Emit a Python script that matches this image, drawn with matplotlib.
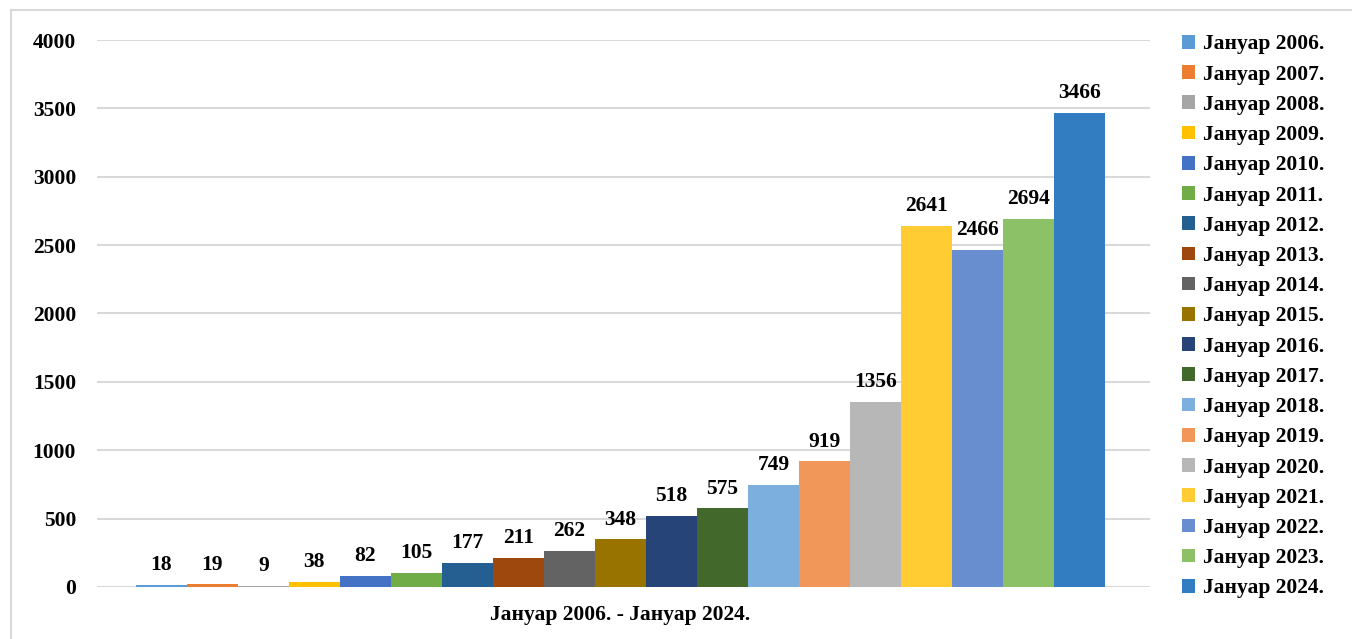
import matplotlib
matplotlib.use('Agg')
import matplotlib.pyplot as plt
from matplotlib.lines import Line2D

# Data
years = list(range(2006, 2025))
series_labels = [f"Јануар {y}." for y in years]
values = [18, 19, 9, 38, 82, 105, 177, 211, 262, 348, 518, 575,
          749, 919, 1356, 2641, 2466, 2694, 3466]
colors = ["#5B9BD5", "#ED7D31", "#A5A5A5", "#FFC000", "#4472C4", "#70AD47",
          "#255E91", "#9E480E", "#636363", "#997300", "#264478", "#43682B",
          "#7CAFDD", "#F1975A", "#B7B7B7", "#FFCD33", "#698ED0", "#8CC168",
          "#327DC2"]
category = "Јануар 2006. - Јануар 2024."
yticks = [0, 500, 1000, 1500, 2000, 2500, 3000, 3500, 4000]

plt.rcParams['font.family'] = ['Liberation Serif', 'DejaVu Serif']
plt.rcParams['font.weight'] = 'bold'
FS = 15.5

fig = plt.figure(figsize=(13.52, 6.39), dpi=100)
ax = fig.add_axes([0.0717, 0.0814, 0.779, 0.856])

n = len(values)
group_width = 0.92
bw = group_width / n
x0 = -0.003
for i, (lab, v, c) in enumerate(zip(series_labels, values, colors)):
    x = x0 - group_width / 2 + bw * (i + 0.5)
    bars = ax.bar(x, v, width=bw, color=c, label=lab, zorder=3)
    ax.bar_label(bars, labels=[str(v)], padding=7, fontsize=FS,
                 fontweight='bold', color='black')

ax.set_xlim(-0.5, 0.5)
ax.set_ylim(0, 4000)
ax.set_yticks(yticks)
ax.set_yticklabels([str(t) for t in yticks], fontsize=FS, fontweight='bold')
ax.set_xticks([x0])
ax.set_xticklabels([category], fontsize=FS, fontweight='bold')
ax.tick_params(axis='y', length=0, pad=15)
ax.tick_params(axis='x', length=0, pad=13)
ax.grid(axis='y', color='#D9D9D9', linewidth=1.5, zorder=0)
for s in ax.spines.values():
    s.set_visible(False)

leg = ax.legend(loc='upper left', bbox_to_anchor=(1.022, 1.026), frameon=False,
                fontsize=FS, handlelength=0.6, handleheight=0.6,
                handletextpad=0.4, labelspacing=0.475, borderaxespad=0)
for t in leg.get_texts():
    t.set_fontweight('bold')

# outer chart border (left and top visible)
fig.add_artist(Line2D([11 / 1352, 11 / 1352], [0, 1 - 10 / 639],
                      transform=fig.transFigure, color='#D9D9D9', linewidth=1.5))
fig.add_artist(Line2D([11 / 1352, 1], [1 - 10 / 639, 1 - 10 / 639],
                      transform=fig.transFigure, color='#D9D9D9', linewidth=1.5))

fig.savefig("out.png", dpi=100)
